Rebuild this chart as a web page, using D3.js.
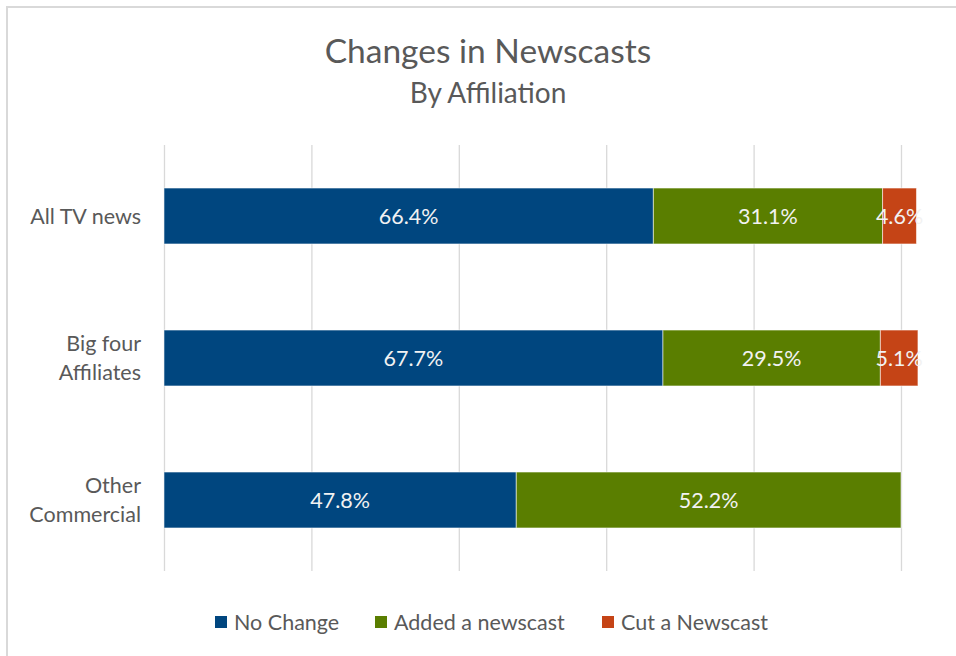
<!DOCTYPE html>
<html>
<head>
<meta charset="utf-8">
<script src="https://cdn.jsdelivr.net/npm/d3@7"></script>
<style>
  html, body { margin: 0; padding: 0; background: #fff; }
  svg { display: block; font-family: Lato, "Open Sans", sans-serif; }
</style>
</head>
<body>
<svg id="chart" width="956" height="656"></svg>
<script>
// Share of stations by change in newscasts, per affiliation group
const categories = [["All TV news"], ["Big four", "Affiliates"], ["Other", "Commercial"]];
const categoryKeys = ["All TV news", "Big four Affiliates", "Other Commercial"];
const seriesNames = ["No Change", "Added a newscast", "Cut a Newscast"];
const seriesColors = ["#00467F", "#5A7E00", "#C54416"];
const noChange = [66.4, 67.7, 47.8];
const addedNewscast = [31.1, 29.5, 52.2];
const cutNewscast = [4.6, 5.1, 0];
const xTicks = [0, 20, 40, 60, 80, 100];

const rows = categoryKeys.map((k, i) => ({
  key: k, lines: categories[i],
  "No Change": noChange[i],
  "Added a newscast": addedNewscast[i],
  "Cut a Newscast": cutNewscast[i]
}));

const svg = d3.select("#chart");
const textColor = "#595959";

// chart frame
svg.append("rect")
  .attr("x", 7).attr("y", 7).attr("width", 980).attr("height", 680)
  .attr("fill", "none").attr("stroke", "#d9d9d9").attr("stroke-width", 2);

const plot = { left: 164, right: 901, top: 145, bottom: 571 };

const x = d3.scaleLinear().domain([0, 100]).range([plot.left, plot.right]);
const y = d3.scaleBand().domain(categoryKeys)
  .range([plot.top, plot.bottom]).paddingInner(0.606).paddingOuter(0.303);

// vertical gridlines
svg.append("g")
  .attr("transform", `translate(0,${plot.bottom})`)
  .call(d3.axisBottom(x).tickValues(xTicks).tickSize(-(plot.bottom - plot.top)).tickFormat(""))
  .call(g => g.select(".domain").remove())
  .call(g => g.selectAll(".tick line").attr("stroke", "#d9d9d9").attr("stroke-width", 1.3));

// category labels
const yAxis = svg.append("g");
rows.forEach(r => {
  const cy = y(r.key) + y.bandwidth() / 2;
  const n = r.lines.length;
  const t = yAxis.append("text")
    .attr("text-anchor", "end").attr("fill", textColor)
    .attr("font-size", 21.5);
  r.lines.forEach((ln, j) => {
    t.append("tspan").attr("x", 141)
      .attr("y", cy + (j - (n - 1) / 2) * 28.5 + 7.5)
      .text(ln);
  });
});

// stacked bars
const stack = d3.stack().keys(seriesNames)(rows);
const color = d3.scaleOrdinal().domain(seriesNames).range(seriesColors);
const fmt = d => d3.format(".1f")(d) + "%";

const layers = svg.append("g").selectAll("g").data(stack).join("g")
  .attr("fill", d => color(d.key));

layers.selectAll("rect").data(d => d.filter(s => s[1] - s[0] > 0)).join("rect")
  .attr("x", d => x(d[0]))
  .attr("y", d => y(d.data.key))
  .attr("width", d => x(d[1]) - x(d[0]))
  .attr("height", y.bandwidth())
  .attr("stroke", "rgba(255,255,255,0.55)").attr("stroke-width", 1);

// value labels
const labels = svg.append("g");
stack.forEach(layer => {
  layer.forEach(s => {
    const v = s[1] - s[0];
    if (v <= 0) return;
    labels.append("text")
      .attr("x", (x(s[0]) + x(s[1])) / 2)
      .attr("y", y(s.data.key) + y.bandwidth() / 2 + 7.5)
      .attr("text-anchor", "middle")
      .attr("fill", "#f2f2f2")
      .attr("font-size", 21.5)
      .text(fmt(s.data[layer.key]));
  });
});

// title
svg.append("text").attr("x", 488).attr("y", 63).attr("text-anchor", "middle")
  .attr("fill", textColor).attr("font-size", 33.5).text("Changes in Newscasts");
svg.append("text").attr("x", 488).attr("y", 103).attr("text-anchor", "middle")
  .attr("fill", textColor).attr("font-size", 28).text("By Affiliation");

// legend
const legendX = [215, 375, 602];
const legend = svg.append("g");
seriesNames.forEach((name, i) => {
  legend.append("rect").attr("x", legendX[i]).attr("y", 616)
    .attr("width", 12).attr("height", 12).attr("fill", seriesColors[i]);
  legend.append("text").attr("x", legendX[i] + 19).attr("y", 629.5)
    .attr("fill", textColor).attr("font-size", 21.5).text(name);
});
</script>
</body>
</html>
